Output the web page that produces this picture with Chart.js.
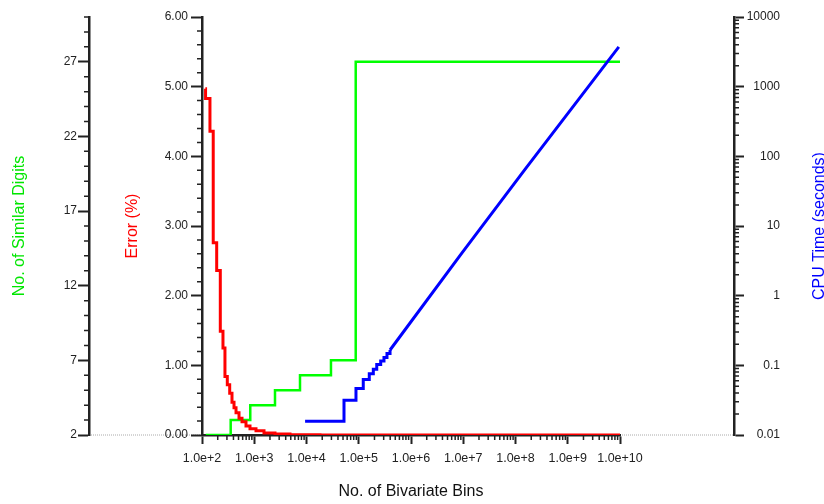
<!DOCTYPE html>
<html>
<head>
<meta charset="utf-8">
<script src="https://cdn.jsdelivr.net/npm/chart.js@4.4.1/dist/chart.umd.min.js"></script>
<style>
  html, body { margin: 0; padding: 0; background: #fff; }
  canvas { display: block; }
</style>
</head>
<body>
<canvas id="chart" width="824" height="504"></canvas>
<script>
const FONT = "'Liberation Sans', Arial, Helvetica, sans-serif";

// x axis: number of bivariate bins (log)
const binTicks = [1e2, 1e3, 1e4, 1e5, 1e6, 1e7, 1e8, 1e9, 1e10];
const binTickLabels = ['1.0e+2', '1.0e+3', '1.0e+4', '1.0e+5', '1.0e+6', '1.0e+7', '1.0e+8', '1.0e+9', '1.0e+10'];

// left inner axis: error (%)
const errorTicks = [0, 1, 2, 3, 4, 5, 6];
const errorBins = [116, 117, 142, 164, 191, 224, 252, 275, 305, 339, 375, 410, 448, 511, 583, 695, 829, 1080, 1537, 2495, 4830, 18100, 1e10];
const errorValues = [4.97, 4.83, 4.36, 2.76, 2.36, 1.49, 1.25, 0.84, 0.72, 0.60, 0.47, 0.39, 0.32, 0.24, 0.19, 0.13, 0.09, 0.06, 0.03, 0.014, 0.005, 0, 0];

// left outer axis: no. of similar digits
const digitTicks = [2, 7, 12, 17, 22, 27];
const digitBins = [118, 354, 839, 2495, 7510, 29400, 87500, 1e10];
const digitValues = [2, 3, 4, 5, 6, 7, 27, 27];

// right axis: CPU time (seconds, log)
const cpuTicks = [0.01, 0.1, 1, 10, 100, 1000, 10000];
const cpuTickLabels = ['0.01', '0.1', '1', '10', '100', '1000', '10000'];
const cpuStepBins = [9400, 52200, 88500, 122000, 159000, 190000, 221000, 263000, 304000, 347000, 397000];
const cpuStepTimes = [0.0158, 0.0316, 0.0464, 0.0625, 0.076, 0.0877, 0.103, 0.115, 0.130, 0.148, 0.166];
const cpuLineBins = [397000, 9.46e6, 1.52e8, 9.5e9];
const cpuLineTimes = [0.166, 4.1, 65, 3730];

const pairs = (xs, ys) => xs.map((x, i) => ({ x, y: ys[i] }));
const setTicks = values => scale => { scale.ticks = values.map(value => ({ value })); };
const tickFont = { family: FONT, size: 12 };
const titleFont = { family: FONT, size: 16 };
const axisBorder = { color: '#222', width: 2.5 };
const grid = len => ({ drawOnChartArea: false, tickLength: len, tickWidth: 2, tickColor: '#222' });

const axisExtras = {
  id: 'axisExtras',
  beforeDraw(chart) {
    const { ctx } = chart;
    const { x, yError, yDigits, yCpu } = chart.scales;
    ctx.save();
    ctx.strokeStyle = '#aaa';
    ctx.lineWidth = 1;
    ctx.setLineDash([1, 1]);
    ctx.beginPath();
    ctx.moveTo(yDigits.right, x.top);
    ctx.lineTo(yError.right, x.top);
    ctx.moveTo(x.right, x.top);
    ctx.lineTo(yCpu.left, x.top);
    ctx.stroke();
    ctx.restore();
  },
  afterDraw(chart) {
    const { ctx } = chart;
    const { x, yError, yDigits, yCpu } = chart.scales;
    ctx.save();
    ctx.strokeStyle = '#222';
    ctx.lineWidth = 1.5;
    ctx.beginPath();
    // minor ticks, error axis (every 0.2)
    for (let i = 1; i < 30; i++) {
      if (i % 5 === 0) continue;
      const py = yError.getPixelForValue(i * 0.2);
      ctx.moveTo(yError.right - 5, py);
      ctx.lineTo(yError.right, py);
    }
    // minor ticks, digits axis (every 1)
    for (let v = 3; v <= 30; v++) {
      if ((v - 2) % 5 === 0) continue;
      const py = yDigits.getPixelForValue(v);
      ctx.moveTo(yDigits.right - 5, py);
      ctx.lineTo(yDigits.right, py);
    }
    // minor ticks, log axes
    for (let d = -2; d < 4; d++) {
      for (let m = 2; m < 10; m++) {
        const py = yCpu.getPixelForValue(m * Math.pow(10, d));
        ctx.moveTo(yCpu.left, py);
        ctx.lineTo(yCpu.left + 5, py);
      }
    }
    for (let d = 2; d < 10; d++) {
      for (let m = 2; m < 10; m++) {
        const px = x.getPixelForValue(m * Math.pow(10, d));
        ctx.moveTo(px, x.top);
        ctx.lineTo(px, x.top + 5);
      }
    }
    ctx.stroke();

    // right-hand title reads bottom to top, like the left ones
    ctx.translate(820, (yCpu.top + yCpu.bottom) / 2);
    ctx.rotate(-Math.PI / 2);
    ctx.fillStyle = '#0000ff';
    ctx.font = '16px ' + FONT;
    ctx.textAlign = 'center';
    ctx.textBaseline = 'middle';
    ctx.fillText('CPU Time (seconds)', 0, 0);
    ctx.restore();
  }
};

new Chart(document.getElementById('chart'), {
  type: 'line',
  data: {
    datasets: [
      {
        data: pairs(cpuLineBins, cpuLineTimes),
        yAxisID: 'yCpu',
        borderColor: '#0000ff',
        borderWidth: 3,
        order: 0
      },
      {
        data: pairs(cpuStepBins, cpuStepTimes),
        yAxisID: 'yCpu',
        borderColor: '#0000ff',
        borderWidth: 3,
        stepped: 'before',
        order: 0
      },
      {
        data: pairs(errorBins, errorValues),
        yAxisID: 'yError',
        borderColor: '#ff0000',
        borderWidth: 3,
        stepped: 'before',
        order: 1
      },
      {
        data: pairs(digitBins, digitValues),
        yAxisID: 'yDigits',
        borderColor: '#00ff00',
        borderWidth: 2.5,
        stepped: 'before',
        order: 2
      }
    ]
  },
  options: {
    responsive: false,
    devicePixelRatio: 1,
    animation: false,
    layout: { padding: { top: 17, left: 0, right: 44, bottom: 0 } },
    elements: { point: { radius: 0 }, line: { tension: 0 } },
    plugins: { legend: { display: false }, tooltip: { enabled: false } },
    scales: {
      x: {
        type: 'logarithmic',
        position: 'bottom',
        min: 1e2,
        max: 1e10,
        afterBuildTicks: setTicks(binTicks),
        afterFit: s => { s.height = 69; },
        ticks: {
          callback: (v, i) => binTickLabels[i],
          font: { family: FONT, size: 12.5 },
          color: '#222',
          padding: 7,
          autoSkip: false,
          maxRotation: 0
        },
        grid: grid(9),
        border: axisBorder,
        title: { display: true, text: 'No. of Bivariate Bins', color: '#111', font: titleFont, padding: { top: 0, bottom: 3 } }
      },
      yDigits: {
        type: 'linear',
        position: 'left',
        weight: 2,
        min: 2,
        max: 30,
        afterBuildTicks: setTicks(digitTicks),
        afterFit: s => { s.width = 89; },
        ticks: { font: tickFont, color: '#222', padding: 1 },
        grid: grid(11),
        border: axisBorder,
        title: { display: true, text: 'No. of Similar Digits', color: '#00e600', font: titleFont, padding: { top: 10, bottom: 0 } }
      },
      yError: {
        type: 'linear',
        position: 'left',
        weight: 1,
        min: 0,
        max: 6,
        afterBuildTicks: setTicks(errorTicks),
        afterFit: s => { s.width = 113; },
        ticks: { font: tickFont, color: '#222', padding: 3, callback: v => v.toFixed(2) },
        grid: grid(11),
        border: axisBorder,
        title: { display: true, text: 'Error (%)', color: '#ff0000', font: titleFont, padding: { top: 34, bottom: 0 } }
      },
      gap: {
        type: 'linear',
        position: 'right',
        weight: 1,
        afterFit: s => { s.width = 114; },
        ticks: { display: false },
        grid: { display: false },
        border: { display: false }
      },
      yCpu: {
        type: 'logarithmic',
        position: 'right',
        weight: 2,
        min: 0.01,
        max: 10000,
        afterBuildTicks: setTicks(cpuTicks),
        afterFit: s => { s.width = 46; },
        ticks: {
          callback: (v, i) => cpuTickLabels[i],
          font: tickFont,
          color: '#222',
          padding: 3,
          crossAlign: 'far'
        },
        grid: grid(10),
        border: axisBorder
      }
    }
  },
  plugins: [axisExtras]
});
</script>
</body>
</html>
